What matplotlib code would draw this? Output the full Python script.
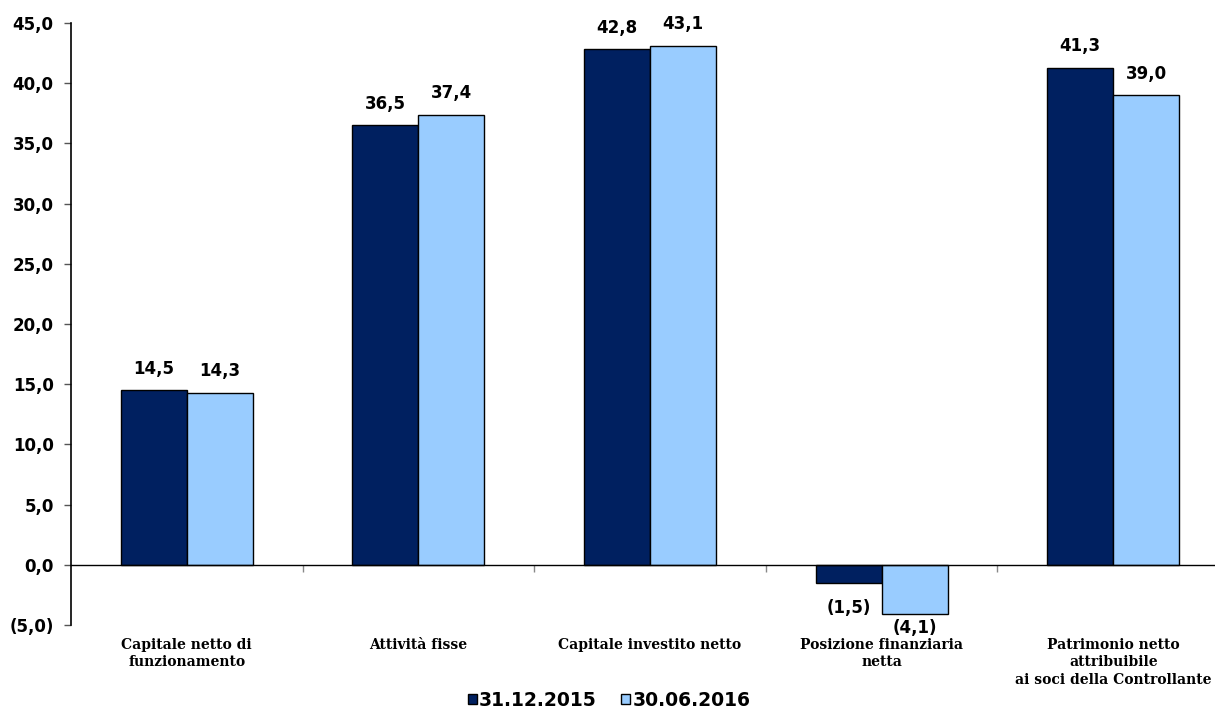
import matplotlib
matplotlib.use("Agg")
import matplotlib.pyplot as plt
import numpy as np
from matplotlib.patches import Patch
from matplotlib.ticker import FuncFormatter, FixedLocator
import matplotlib.transforms as mtransforms

categories = ["Capitale netto di\nfunzionamento", "Attività fisse", "Capitale investito netto",
              "Posizione finanziaria\nnetta", "Patrimonio netto\nattribuibile\nai soci della Controllante"]
series_names = ["31.12.2015", "30.06.2016"]
values_2015 = [14.5, 36.5, 42.8, -1.5, 41.3]
values_2016 = [14.3, 37.4, 43.1, -4.1, 39.0]
colors = ["#002060", "#99CCFF"]

W, H = 1215, 709
fig = plt.figure(figsize=(W / 100, H / 100), dpi=100)
left, right, top, bottom = 71, 1229, 23, 625
ax = fig.add_axes([left / W, 1 - bottom / H, (right - left) / W, (bottom - top) / H])

x = np.arange(len(categories))
bw = 0.285
b1 = ax.bar(x - bw / 2, values_2015, bw, color=colors[0], edgecolor="black", linewidth=1.0, zorder=3)
b2 = ax.bar(x + bw / 2, values_2016, bw, color=colors[1], edgecolor="black", linewidth=1.0, zorder=3)

ax.set_xlim(-0.5, len(categories) - 0.5)
ax.set_ylim(-5, 45)

def fmt(v, pos=None):
    s = f"{abs(v):.1f}".replace(".", ",")
    return f"({s})" if v < 0 else s

ax.yaxis.set_major_locator(FixedLocator(np.arange(-5, 46, 5)))
ax.yaxis.set_major_formatter(FuncFormatter(fmt))
ax.tick_params(axis="y", direction="out", length=5, width=1, color="#555555", pad=7.5)
for t in ax.yaxis.get_major_ticks():
    t.label1.set_fontweight("bold")
    t.label1.set_fontsize(12)
    t.label1.set_fontfamily("DejaVu Sans")

ax.spines["top"].set_visible(False)
ax.spines["right"].set_visible(False)
ax.spines["bottom"].set_position(("data", 0))
ax.spines["bottom"].set_linewidth(1.0)
ax.spines["left"].set_linewidth(1.2)
ax.spines["bottom"].set_zorder(4)
ax.xaxis.set_major_locator(FixedLocator(np.arange(0.5, len(categories), 1.0)))
ax.tick_params(axis="x", direction="out", length=5, width=1, color="#888888", labelbottom=False)

# value labels
for bars, vals, neg_off in ((b1, values_2015, -11.5), (b2, values_2016, -3.5)):
    for rect, v in zip(bars, vals):
        cx = rect.get_x() + rect.get_width() / 2
        if v >= 0:
            ax.annotate(fmt(v), (cx, v), xytext=(0, 9), textcoords="offset points",
                        ha="center", va="bottom", fontsize=12, fontweight="bold", family="DejaVu Sans")
        else:
            ax.annotate(fmt(v), (cx, v), xytext=(0, neg_off), textcoords="offset points",
                        ha="center", va="top", fontsize=12, fontweight="bold", family="DejaVu Sans")

# category labels
trans = mtransforms.blended_transform_factory(ax.transData, ax.transAxes)
for xi, c in zip(x, categories):
    ax.text(xi, -0.021, c, transform=trans, ha="center", va="top", fontsize=10,
            fontweight="bold", family="DejaVu Serif", linespacing=1.35)

handles = [Patch(facecolor=colors[0], edgecolor="black", linewidth=1.0),
           Patch(facecolor=colors[1], edgecolor="black", linewidth=1.0)]
leg = fig.legend(handles, series_names, loc="center", bbox_to_anchor=(609 / W, 1 - 700 / H),
                 ncol=2, frameon=False, handlelength=0.5, handleheight=0.5, handletextpad=0.1,
                 columnspacing=1.3, borderpad=0.1,
                 prop={"family": "DejaVu Sans", "weight": "bold", "size": 13.5})

fig.savefig("out.png", dpi=100)
